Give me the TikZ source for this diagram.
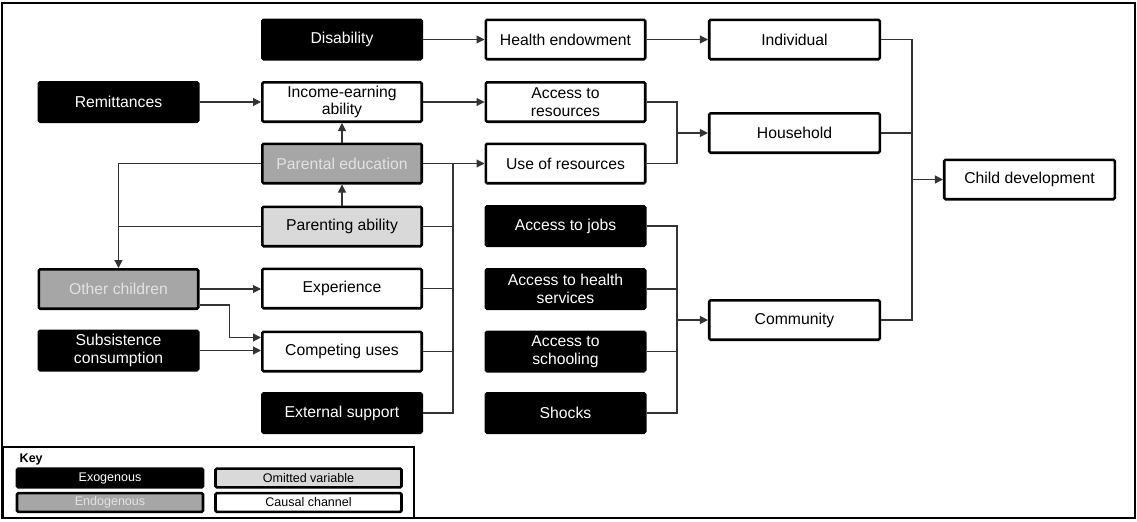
\documentclass[tikz,border=0pt]{standalone}
\usepackage{fontspec}
\setmainfont{Liberation Sans}
\usetikzlibrary{arrows.meta}
\definecolor{endogray}{HTML}{A6A6A6}
\definecolor{omitgray}{HTML}{D9D9D9}
\definecolor{endotext}{HTML}{E2E2E2}
\newcommand{\boxfont}{\fontsize{11.8}{13.2}\selectfont}
\newcommand{\keyfont}{\fontsize{9.4}{10}\selectfont}
\tikzset{
    box/.style={draw, line width=1.9pt, rounded corners=1pt, minimum width=119.6pt, minimum height=29.6pt, inner sep=1pt, align=center, font=\boxfont},
    widebox/.style={box, minimum width=127.9pt},
    exo/.style={box, fill=black, text=white},
    endo/.style={box, fill=endogray, text=endotext},
    omit/.style={box, fill=omitgray},
    chan/.style={box, fill=white},
    keybox/.style={draw, line width=1.9pt, rounded corners=1pt, minimum width=139.5pt, minimum height=14pt, inner sep=0pt, font=\keyfont},
    conn/.style={line width=0.8pt, draw=black!80},
    arr/.style={conn, -{Triangle[length=6pt,width=6pt]}}
}
\begin{document}
\begin{tikzpicture}[x=0.75pt,y=-0.75pt]
    \useasboundingbox (0,0) rectangle (1137,521);
    \draw[line width=1.6pt] (2,3) rectangle (1135,518);

    % left column
    \node[exo]  (remit)   at (118.5,102)   {Remittances};
    \node[endo] (others)  at (118.5,289)   {Other children};
    \node[exo]  (subsist) at (118.5,350.5) {Subsistence\\consumption};

    % second column
    \node[exo]  (disab)   at (342,39.5)  {Disability};
    \node[chan] (income)  at (342,102)   {Income-earning\\ability};
    \node[endo] (pareduc) at (342,163.5) {Parental education};
    \node[omit] (parabil) at (342,226.5) {Parenting ability};
    \node[chan] (exper)   at (342,288.5) {Experience};
    \node[chan] (compet)  at (342,351.5) {Competing uses};
    \node[exo]  (extsup)  at (342,413)   {External support};

    % third column
    \node[chan] (health)  at (565.5,39.5)  {Health endowment};
    \node[chan] (accres)  at (565.5,102)   {Access to\\resources};
    \node[chan] (useres)  at (565.5,163.5) {Use of resources};
    \node[exo]  (jobs)    at (565.5,226)   {Access to jobs};
    \node[exo]  (hserv)   at (565.5,289)   {Access to health\\services};
    \node[exo]  (school)  at (565.5,351.5) {Access to\\schooling};
    \node[exo]  (shocks)  at (565.5,413)   {Shocks};

    % levels and outcome
    \node[chan, widebox] (indiv) at (794.5,39.5) {Individual};
    \node[chan, widebox] (house) at (794.5,133)  {Household};
    \node[chan, widebox] (comm)  at (794.5,320)  {Community};
    \node[chan, widebox] (child) at (1029.5,179.5) {Child development};

    \coordinate (busa) at (453,0);
    \coordinate (busb) at (677,0);
    \coordinate (busc) at (912,0);

    % connectors
    \draw[arr] (disab) -- (health);
    \draw[arr] (health) -- (indiv);
    \draw[arr] (remit) -- (income);
    \draw[arr] (income.east) -- (income.east -| accres.west);
    \draw[arr] (pareduc) -- (income);
    \draw[arr] (parabil) -- (pareduc);
    \draw[arr] (pareduc) -- (useres);
    \draw[arr] (pareduc.west) -| (others.north);
    \draw[conn] (parabil.west) -- (parabil.west -| others.north);
    \draw[arr] (others.east) -- (others.east -| exper.west);
    \draw[arr] ([yshift=-12pt]others.east) -- ++(30,0) |- ([yshift=10.5pt]compet.west);
    \draw[arr] (subsist.east) -- (subsist.east -| compet.west);
    \draw[conn] (extsup.east) -| (busa |- pareduc.east);
    \draw[conn] (parabil.east) -- (parabil.east -| busa);
    \draw[conn] (exper.east) -- (exper.east -| busa);
    \draw[conn] (compet.east) -- (compet.east -| busa);

    \draw[conn] (accres.east) -| (busb |- useres.east) -- (useres.east);
    \draw[arr] (busb |- house) -- (house.west);
    \draw[conn] (jobs.east) -| (busb |- shocks.east) -- (shocks.east);
    \draw[conn] (hserv.east) -- (hserv.east -| busb);
    \draw[conn] (school.east) -- (school.east -| busb);
    \draw[arr] (busb |- comm) -- (comm.west);

    \draw[conn] (indiv.east) -| (busc |- comm.east) -- (comm.east);
    \draw[conn] (house.east) -- (house.east -| busc);
    \draw[arr] (busc |- child) -- (child.west);

    % key
    \draw[line width=0.8pt] (3,447) rectangle (414,518);
    \node[anchor=west, font=\keyfont\bfseries] (keytitle) at (15,459) {Key};
    \node[keybox, fill=black, text=white] (keyexo) at (110,478) {Exogenous};
    \node[keybox, fill=omitgray] (keyomit) at (308.5,478) {Omitted variable};
    \node[keybox, fill=endogray, text=endotext] (keyendo) at (110,502.5) {Endogenous};
    \node[keybox, fill=white] (keychan) at (308.5,502.5) {Causal channel};
\end{tikzpicture}
\end{document}
